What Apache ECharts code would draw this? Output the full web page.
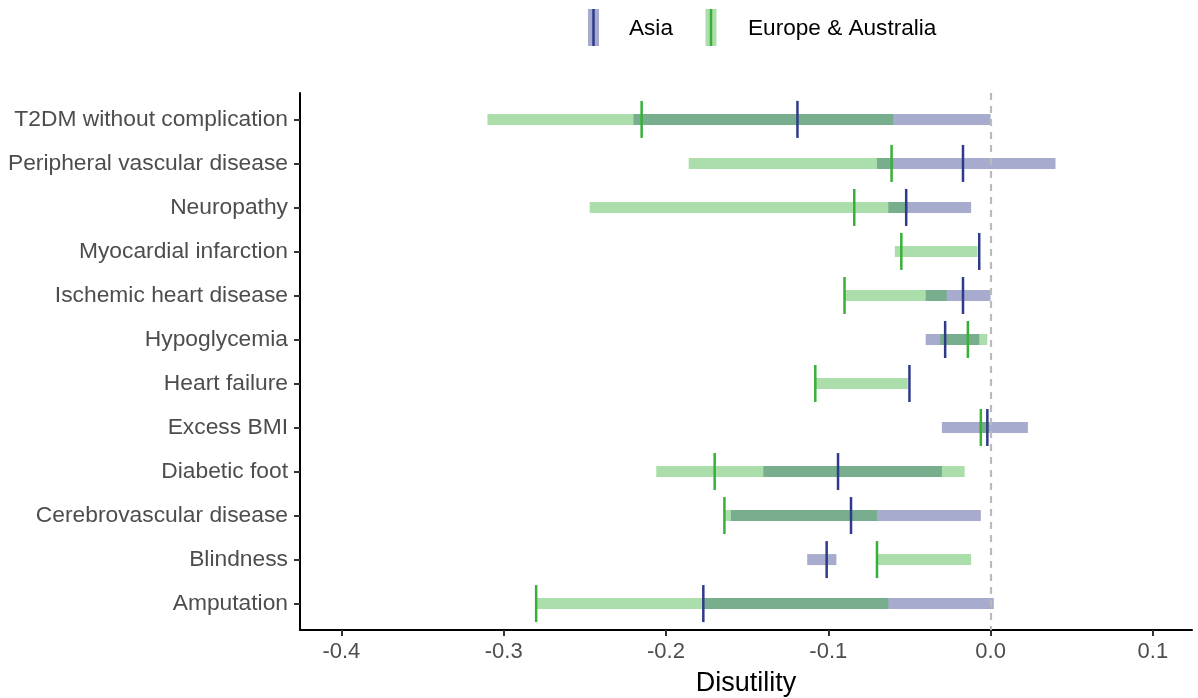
<!DOCTYPE html>
<html>
<head>
<meta charset="utf-8">
<script src="https://cdn.jsdelivr.net/npm/echarts@6/dist/echarts.min.js"></script>
<style>
html,body{margin:0;padding:0;background:#fff;}
#chart{width:1198px;height:698px;}
</style>
</head>
<body>
<div id="chart"></div>
<script>
// Categories, top to bottom
var categories = ['T2DM without complication', 'Peripheral vascular disease', 'Neuropathy', 'Myocardial infarction', 'Ischemic heart disease', 'Hypoglycemia', 'Heart failure', 'Excess BMI', 'Diabetic foot', 'Cerebrovascular disease', 'Blindness', 'Amputation'];

// Asia
var asiaMin = [-0.220, -0.070, -0.063, -0.007, -0.040, -0.040, -0.050, -0.030, -0.140, -0.160, -0.113, -0.177];
var asiaMax = [0.000, 0.040, -0.012, -0.007, 0.000, -0.007, -0.050, 0.023, -0.030, -0.006, -0.095, 0.002];
var asiaEst = [-0.119, -0.017, -0.052, -0.007, -0.017, -0.028, -0.050, -0.002, -0.094, -0.086, -0.101, -0.177];

// Europe & Australia
var euMin = [-0.310, -0.186, -0.247, -0.059, -0.090, -0.031, -0.108, -0.007, -0.206, -0.164, -0.070, -0.280];
var euMax = [-0.060, -0.060, -0.051, -0.008, -0.027, -0.002, -0.051, -0.001, -0.016, -0.070, -0.012, -0.063];
var euEst = [-0.215, -0.061, -0.084, -0.055, -0.090, -0.014, -0.108, -0.006, -0.170, -0.164, -0.070, -0.280];

var xTicks = [-0.4, -0.3, -0.2, -0.1, 0.0, 0.1];
var zeroLine = 0;

var asiaColor = '#2e3a8a';
var euColor = '#38b038';
var FONT = "'Liberation Sans', Arial, sans-serif";

function rangeData(mins, maxs) {
  return categories.map(function (c, i) { return [mins[i], maxs[i], i]; });
}
function estData(ests) {
  return categories.map(function (c, i) { return [ests[i], i]; });
}

function renderRange(color) {
  return function (params, api) {
    var p1 = api.coord([api.value(0), api.value(2)]);
    var p2 = api.coord([api.value(1), api.value(2)]);
    var h = 11;
    var w = Math.max(p2[0] - p1[0], 0);
    return {
      type: 'rect',
      shape: { x: p1[0], y: p1[1] - h / 2, width: w, height: h },
      style: { fill: color, opacity: 0.42 }
    };
  };
}
function renderTick(color) {
  return function (params, api) {
    var p = api.coord([api.value(0), api.value(1)]);
    var h = 37;
    return {
      type: 'line',
      shape: { x1: p[0], y1: p[1] - h / 2, x2: p[0], y2: p[1] + h / 2 },
      style: { stroke: color, lineWidth: 2.5 }
    };
  };
}

var idx = categories.map(function (c, i) { return i; });

var chart = echarts.init(document.getElementById('chart'), null, { renderer: 'canvas' });
chart.setOption({
  animation: false,
  backgroundColor: '#ffffff',
  textStyle: { fontFamily: FONT },
  grid: { left: 300, right: 6, top: 93, bottom: 68, containLabel: false, outerBoundsMode: 'none' },
  xAxis: {
    type: 'value',
    min: -0.4255,
    max: 0.1241,
    name: 'Disutility',
    nameLocation: 'middle',
    nameGap: 40,
    nameTextStyle: { fontSize: 27, color: '#000', fontFamily: FONT },
    axisLine: { show: true, onZero: false, lineStyle: { color: '#000', width: 2 } },
    axisTick: { show: true, customValues: xTicks, length: 6, lineStyle: { color: '#333', width: 2 } },
    axisLabel: {
      customValues: xTicks, fontSize: 22, color: '#4d4d4d', margin: 11, fontFamily: FONT,
      formatter: function (v) { return v.toFixed(1); }
    },
    splitLine: { show: false }
  },
  yAxis: {
    type: 'value',
    inverse: true,
    min: -0.6,
    max: 11.6,
    axisLine: { show: true, onZero: false, lineStyle: { color: '#000', width: 2 } },
    axisTick: { show: true, customValues: idx, length: 6, lineStyle: { color: '#333', width: 2 } },
    axisLabel: {
      customValues: idx, fontSize: 22.8, color: '#4d4d4d', margin: 12, fontFamily: FONT,
      formatter: function (v) { return categories[Math.round(v)]; }
    },
    splitLine: { show: false }
  },
  series: [
    {
      type: 'line', data: [], z: 1, silent: true,
      markLine: {
        silent: true, symbol: 'none', label: { show: false },
        lineStyle: { type: [7, 6], color: '#bbbbbb', width: 2.2 },
        data: [{ xAxis: zeroLine }]
      }
    },
    { name: 'Asia', type: 'custom', z: 2, renderItem: renderRange(asiaColor), encode: { x: [0, 1], y: 2 }, data: rangeData(asiaMin, asiaMax) },
    { name: 'Europe & Australia', type: 'custom', z: 3, renderItem: renderRange(euColor), encode: { x: [0, 1], y: 2 }, data: rangeData(euMin, euMax) },
    { name: 'AsiaEst', type: 'custom', z: 4, renderItem: renderTick(asiaColor), encode: { x: 0, y: 1 }, data: estData(asiaEst) },
    { name: 'EuEst', type: 'custom', z: 5, renderItem: renderTick(euColor), encode: { x: 0, y: 1 }, data: estData(euEst) }
  ],
  graphic: [
    { type: 'rect', shape: { x: 588, y: 9, width: 11, height: 37 }, style: { fill: asiaColor, opacity: 0.42 } },
    { type: 'line', shape: { x1: 593.5, y1: 9, x2: 593.5, y2: 46 }, style: { stroke: asiaColor, lineWidth: 2.5 } },
    { type: 'text', x: 629, y: 29, style: { text: 'Asia', fontSize: 22.6, fill: '#000', fontFamily: FONT, verticalAlign: 'middle', align: 'left' } },
    { type: 'rect', shape: { x: 705.5, y: 9, width: 11, height: 37 }, style: { fill: euColor, opacity: 0.42 } },
    { type: 'line', shape: { x1: 711, y1: 9, x2: 711, y2: 46 }, style: { stroke: euColor, lineWidth: 2.5 } },
    { type: 'text', x: 748, y: 29, style: { text: 'Europe & Australia', fontSize: 22.6, fill: '#000', fontFamily: FONT, verticalAlign: 'middle', align: 'left' } }
  ]
});
</script>
</body>
</html>
